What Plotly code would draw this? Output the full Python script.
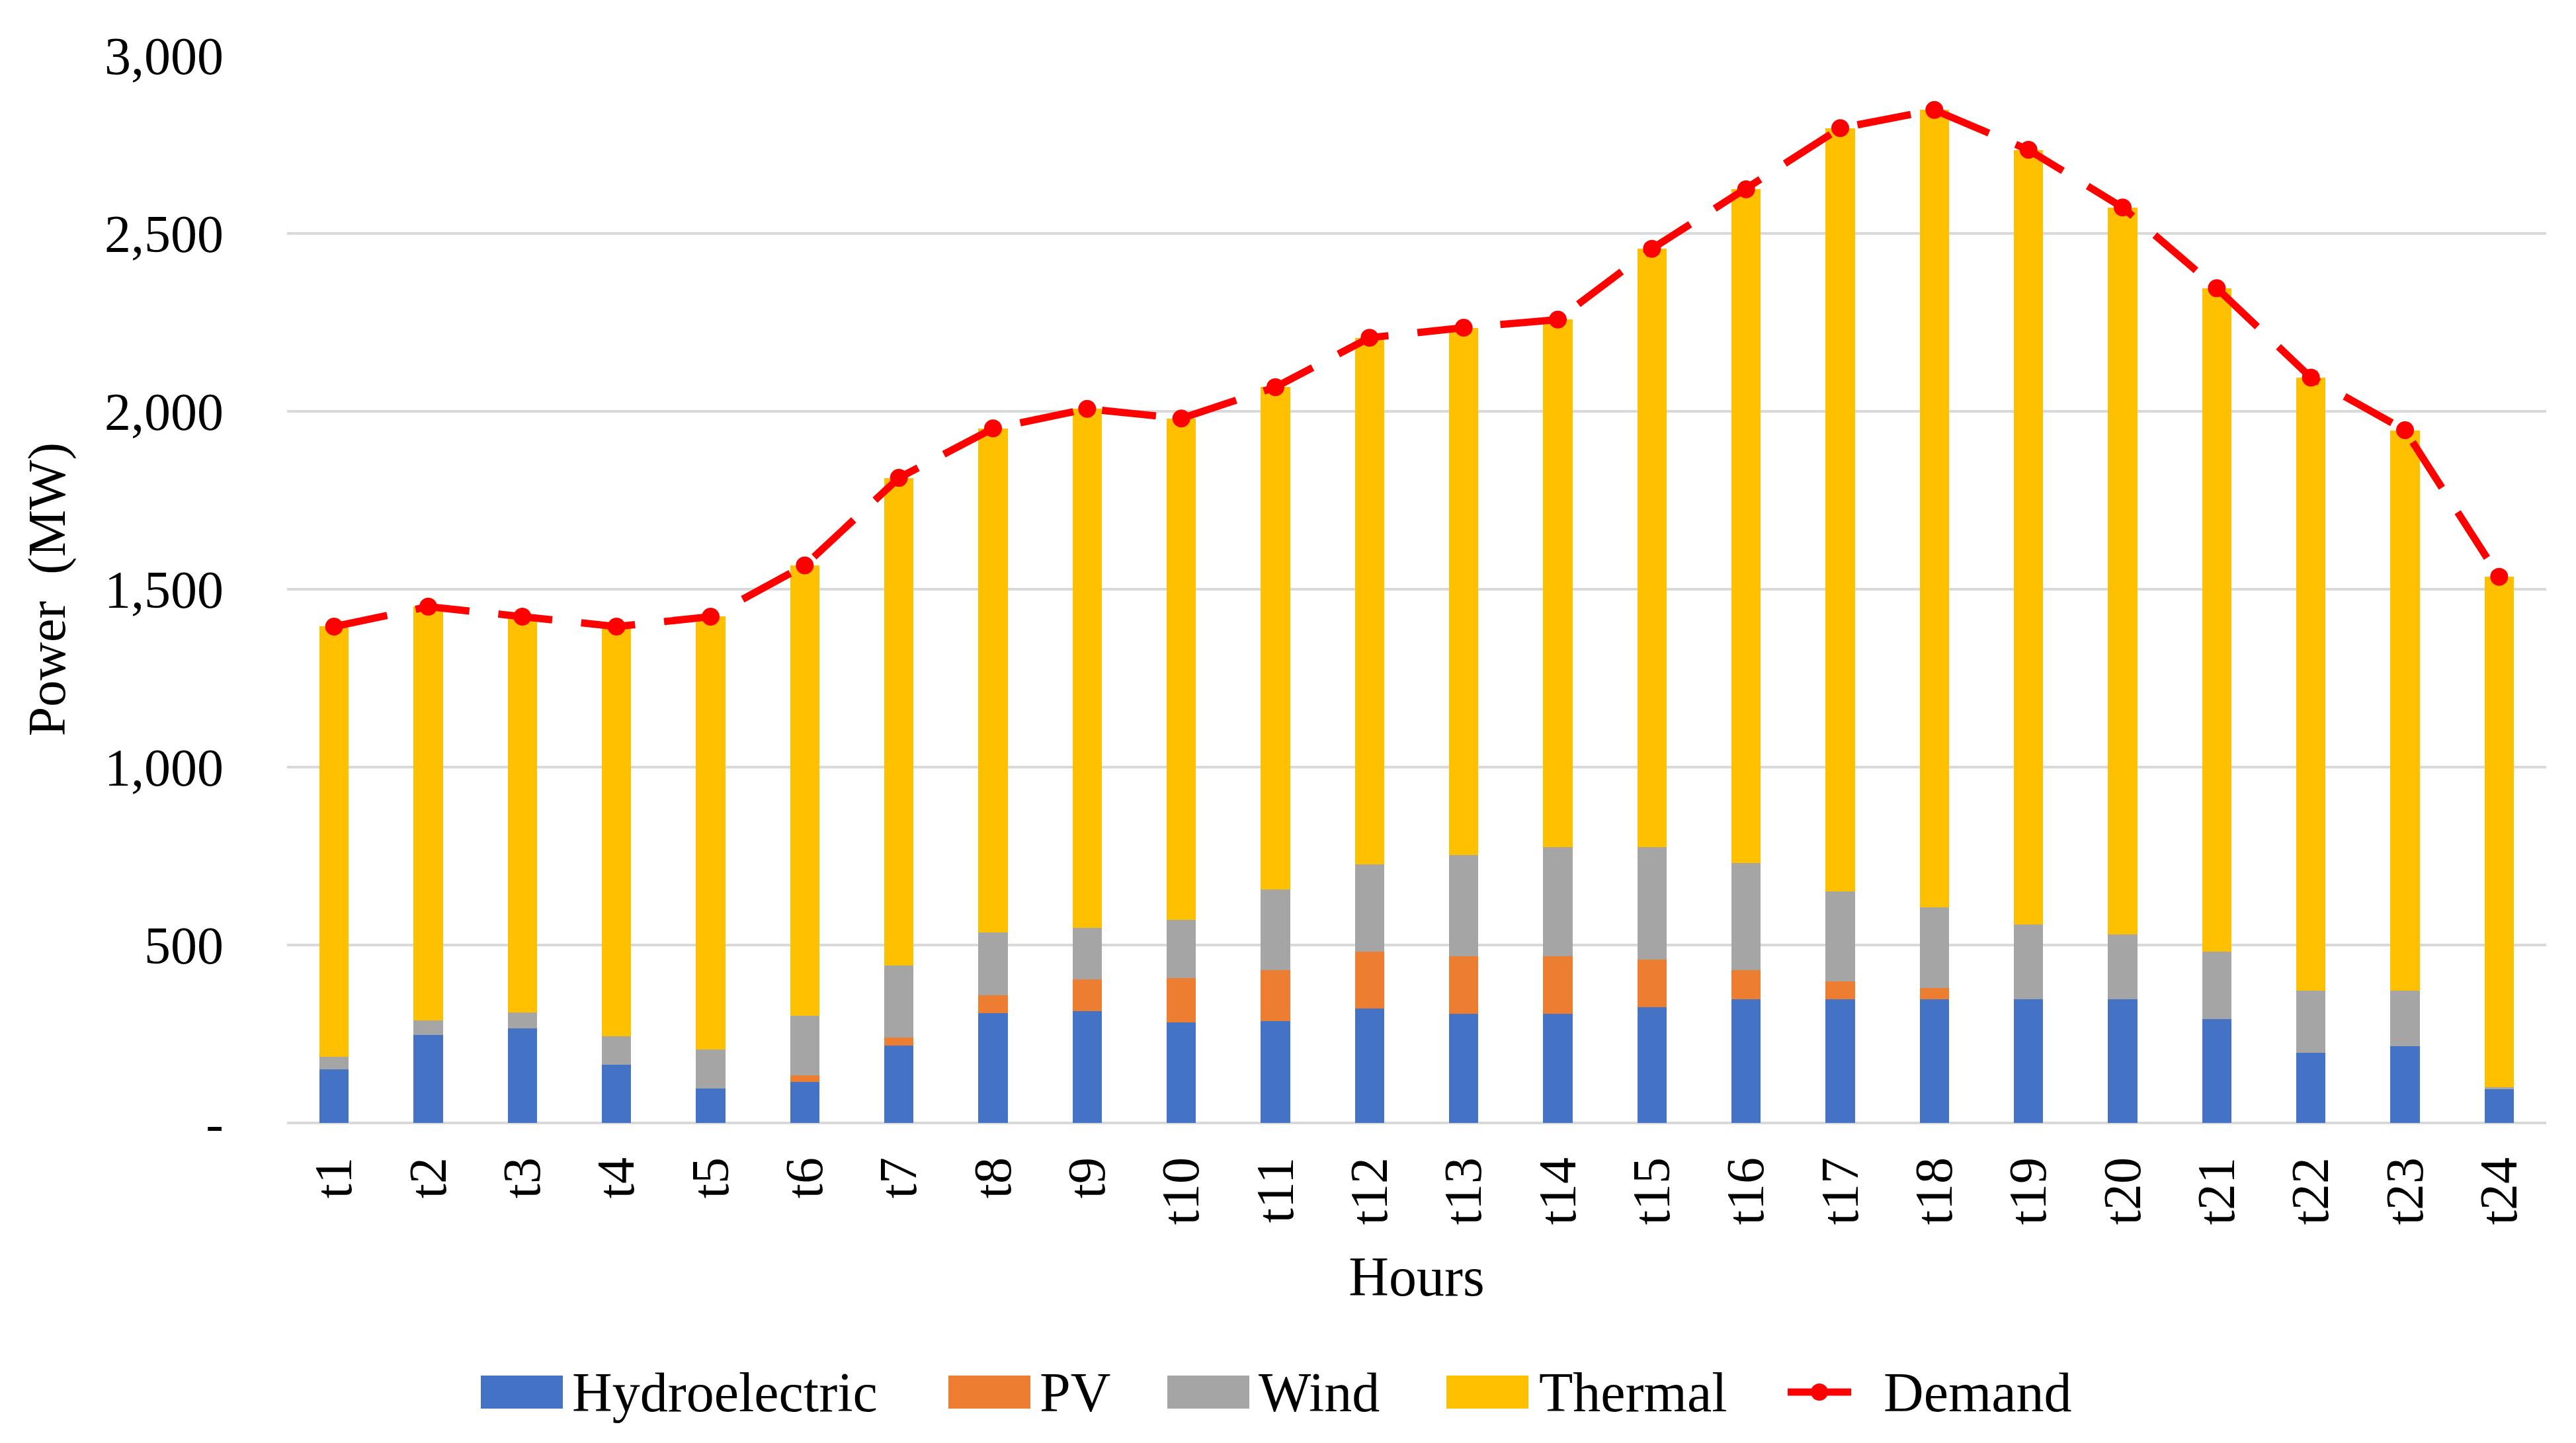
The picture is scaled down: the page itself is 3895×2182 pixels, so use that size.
import plotly.graph_objects as go

hours = ["t%d" % i for i in range(1, 25)]
hydro = [150, 247, 265, 164, 97, 115, 217, 308, 314, 282, 287, 322, 307, 307, 326, 348, 348, 348, 348, 348, 291, 197, 215, 94]
pv = [0, 0, 0, 0, 0, 18, 23, 51, 89, 125, 142, 160, 161, 161, 134, 81, 50, 32, 0, 0, 0, 0, 0, 0]
wind = [36, 41, 45, 79, 110, 168, 202, 176, 145, 163, 227, 245, 285, 307, 315, 302, 253, 226, 209, 182, 191, 174, 156, 6]
thermal = [1209, 1163, 1113, 1152, 1216, 1266, 1371, 1417, 1459, 1410, 1412, 1480, 1482, 1483, 1682, 1893, 2145, 2241, 2178, 2043, 1864, 1724, 1576, 1435]
demand = [1395, 1451, 1423, 1395, 1423, 1567, 1813, 1952, 2007, 1980, 2068, 2207, 2235, 2258, 2457, 2624, 2796, 2847, 2735, 2573, 2346, 2095, 1947, 1535]
ytick_vals = [0, 500, 1000, 1500, 2000, 2500, 3000]
ytick_text = ["-", "500", "1,000", "1,500", "2,000", "2,500", "3,000"]

series_names = ["Hydroelectric", "PV", "Wind", "Thermal"]
series_colors = ["#4472C4", "#ED7D31", "#A5A5A5", "#FFC000"]
DEMAND_COLOR = "#FF0000"

FONT = "Palatino Linotype, Book Antiqua, Liberation Serif, serif"
W, H = 3895, 2182
ML, MR, MT, MB = 426, 53, 76, 492
PW, PH = W - ML - MR, H - MT - MB

def px_x(x):
    return (x - ML) / PW

def px_y(y):
    return (H - MB - y) / PH

fig = go.Figure()
for name, vals, col in zip(series_names, [hydro, pv, wind, thermal], series_colors):
    fig.add_trace(go.Bar(x=hours, y=vals, name=name, showlegend=False,
                         marker=dict(color=col, line=dict(width=0))))
fig.add_trace(go.Scatter(x=hours, y=demand, name="Demand", mode="lines+markers", showlegend=False,
                         line=dict(color=DEMAND_COLOR, width=11, dash="82px,44px"),
                         marker=dict(color=DEMAND_COLOR, size=27)))

# custom legend (bottom, centred)
legend_fs = 84
sq_left = [719, 1426, 1757, 2179]
text_left = [855, 1562, 1893, 2317]
sq_w = 124
ly_top, ly_bot = 2072, 2122
ly_mid = (ly_top + ly_bot) / 2
shapes = []
annos = []
for xl, xt, name, col in zip(sq_left, text_left, series_names, series_colors):
    shapes.append(dict(type="rect", xref="paper", yref="paper",
                       x0=px_x(xl), x1=px_x(xl + sq_w), y0=px_y(ly_bot), y1=px_y(ly_top),
                       fillcolor=col, line=dict(width=0), layer="above"))
    annos.append(dict(xref="paper", yref="paper", x=px_x(xt), y=px_y(ly_mid),
                      text=name, showarrow=False, xanchor="left", yanchor="middle",
                      font=dict(size=legend_fs, family=FONT, color="black")))
shapes.append(dict(type="line", xref="paper", yref="paper",
                   x0=px_x(2695), x1=px_x(2791), y0=px_y(ly_mid), y1=px_y(ly_mid),
                   line=dict(color=DEMAND_COLOR, width=11)))
shapes.append(dict(type="circle", xref="paper", yref="paper",
                   x0=px_x(2743 - 13), x1=px_x(2743 + 13), y0=px_y(ly_mid + 13), y1=px_y(ly_mid - 13),
                   fillcolor=DEMAND_COLOR, line=dict(width=0)))
annos.append(dict(xref="paper", yref="paper", x=px_x(2838), y=px_y(ly_mid),
                  text="Demand", showarrow=False, xanchor="left", yanchor="middle",
                  font=dict(size=legend_fs, family=FONT, color="black")))

fig.update_layout(
    barmode="stack", bargap=0.69,
    width=W, height=H,
    paper_bgcolor="white", plot_bgcolor="white",
    margin=dict(l=ML, r=MR, t=MT, b=MB, autoexpand=False),
    font=dict(family=FONT, size=80, color="black"),
    showlegend=False,
    shapes=shapes, annotations=annos,
    xaxis=dict(title=dict(text="Hours", font=dict(size=84), standoff=48), tickangle=-90,
               range=[-0.5, 23.5], ticklabelstandoff=35,
               showgrid=False, showline=False, ticks="", tickfont=dict(size=80), automargin=False),
    yaxis=dict(title=dict(text="Power  (MW)", font=dict(size=80), standoff=33),
               range=[0, 3000], tickvals=ytick_vals, ticktext=ytick_text, ticklabelstandoff=95,
               showgrid=True, gridcolor="#D9D9D9", gridwidth=4,
               zeroline=True, zerolinecolor="#D9D9D9", zerolinewidth=4,
               ticks="", tickfont=dict(size=80), automargin=False),
)
fig.write_html("out.html")
